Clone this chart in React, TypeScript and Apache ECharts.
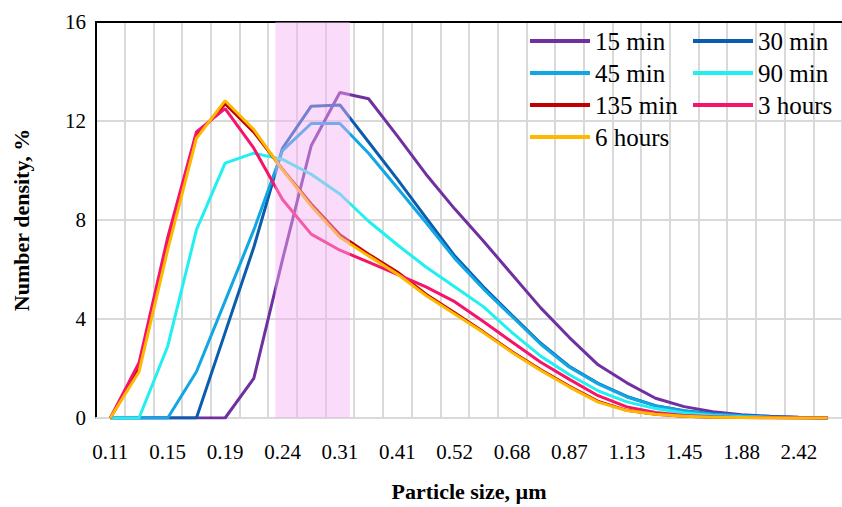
import React, { useEffect, useRef } from 'react';
import * as echarts from 'echarts';

const categories = ['0.11','0.13','0.15','0.17','0.19','0.21','0.24','0.27','0.31','0.36','0.41','0.46','0.52','0.60','0.68','0.77','0.87','1.00','1.13','1.28','1.45','1.66','1.88','2.13','2.42','2.75'];

const seriesNames = ['15 min', '30 min', '45 min', '90 min', '135 min', '3 hours', '6 hours'];
const seriesColors = ['#7030A0', '#0B5CAD', '#11A6E4', '#22F0F0', '#C00000', '#F5146A', '#FFB800'];

const min15 = [0,0,0,0,0,1.6,6.4,11.0,13.15,12.9,11.4,9.85,8.45,7.15,5.8,4.45,3.25,2.15,1.42,0.8,0.46,0.25,0.13,0.07,0.03,0];
const min30 = [0,0,0,0,3.45,6.9,10.9,12.6,12.65,11.15,9.65,8.1,6.55,5.3,4.15,3.02,2.08,1.4,0.87,0.5,0.29,0.17,0.09,0.04,0.02,0];
const min45 = [0,0,0,1.87,4.72,7.6,10.8,11.9,11.9,10.7,9.3,7.9,6.45,5.22,4.1,2.98,2.05,1.38,0.85,0.49,0.28,0.16,0.09,0.04,0.02,0];
const min90 = [0,0,2.9,7.6,10.3,10.7,10.45,9.85,9.05,7.95,7.0,6.1,5.3,4.5,3.45,2.5,1.75,1.1,0.65,0.38,0.2,0.1,0.05,0.02,0.01,0];
const min135 = [0,2.0,7.0,11.4,12.7,11.55,10.05,8.65,7.4,6.62,5.9,5.0,4.25,3.48,2.68,1.95,1.28,0.67,0.31,0.15,0.07,0.03,0.02,0.01,0,0];
const hours3 = [0,2.23,7.3,11.56,12.5,10.9,8.83,7.43,6.78,6.3,5.8,5.3,4.7,3.9,3.07,2.25,1.56,0.9,0.45,0.22,0.1,0.05,0.02,0.01,0,0];
const hours6 = [0,1.87,6.8,11.3,12.82,11.65,10.03,8.57,7.3,6.55,5.82,4.95,4.2,3.45,2.65,1.92,1.25,0.64,0.3,0.15,0.07,0.03,0.02,0.01,0,0];

const seriesValues = [min15, min30, min45, min90, min135, hours3, hours6];

const yMin = 0;
const yMax = 16;
const yInterval = 4;

// highlighted size band, in category-position units (0 = left edge of first category)
const bandRange = [6.25, 8.85];

const legendLeftColumn = ['15 min', '45 min', '135 min', '6 hours'];
const legendRightColumn = ['30 min', '90 min', '3 hours'];

const FONT = 'Liberation Serif';

export default function App() {
  const ref = useRef<HTMLDivElement>(null);

  useEffect(() => {
    if (!ref.current) return;
    const chart = echarts.init(ref.current, null, { renderer: 'svg' });

    const lineSeries = seriesNames.map((name, i) => ({
      type: 'line',
      name,
      data: seriesValues[i],
      xAxisIndex: 0,
      yAxisIndex: 0,
      symbol: 'none',
      showSymbol: false,
      smooth: false,
      lineStyle: { width: 3, color: seriesColors[i] },
      itemStyle: { color: seriesColors[i] },
      z: 2 + i * 0.01,
    }));

    const legendCommon = {
      orient: 'vertical',
      top: 25,
      padding: 0,
      itemGap: 0,
      icon: 'rect',
      itemWidth: 60,
      itemHeight: 4,
      selectedMode: false,
      textStyle: { fontFamily: FONT, fontSize: 25, color: '#000', lineHeight: 32 },
    };

    chart.setOption({
      animation: false,
      backgroundColor: '#fff',
      textStyle: { fontFamily: FONT },
      grid: { left: 96, top: 22, width: 752, height: 401, containLabel: false },
      legend: [
        { ...legendCommon, left: 530, data: legendLeftColumn },
        { ...legendCommon, left: 693, data: legendRightColumn },
      ],
      xAxis: [
        {
          type: 'category',
          data: categories,
          boundaryGap: true,
          position: 'bottom',
          axisLine: { show: true, onZero: false, lineStyle: { color: '#d9d9d9', width: 2 } },
          axisTick: { show: false },
          axisLabel: { interval: 1, color: '#000', fontFamily: FONT, fontSize: 21, margin: 23 },
          splitLine: { show: true, interval: 0, lineStyle: { color: '#d9d9d9', width: 2 } },
          name: 'Particle size, µm',
          nameLocation: 'middle',
          nameGap: 62,
          nameTextStyle: { fontFamily: FONT, fontWeight: 'bold', fontSize: 22, color: '#000' },
        },
        {
          type: 'value',
          position: 'top',
          min: 0,
          max: categories.length,
          axisLine: { show: true, onZero: false, lineStyle: { color: '#000', width: 2 } },
          axisTick: { show: false },
          axisLabel: { show: false },
          splitLine: { show: false },
        },
      ],
      yAxis: {
        type: 'value',
        min: yMin,
        max: yMax,
        interval: yInterval,
        axisLine: { show: true, onZero: false, lineStyle: { color: '#000', width: 2 } },
        axisTick: { show: false },
        axisLabel: { color: '#000', fontFamily: FONT, fontSize: 21, margin: 10 },
        splitLine: { show: true, lineStyle: { color: '#d9d9d9', width: 2 } },
        name: 'Number density, %',
        nameLocation: 'middle',
        nameGap: 64,
        nameTextStyle: { fontFamily: FONT, fontWeight: 'bold', fontSize: 22, color: '#000' },
      },
      series: [
        ...lineSeries,
        {
          type: 'custom',
          name: 'band',
          xAxisIndex: 1,
          yAxisIndex: 0,
          silent: true,
          z: 10,
          data: [[bandRange[0], bandRange[1]]],
          encode: { x: [0, 1] },
          renderItem: (params: any, api: any) => {
            const p0 = api.coord([api.value(0), yMax]);
            const p1 = api.coord([api.value(1), yMin]);
            return {
              type: 'rect',
              shape: { x: p0[0], y: p0[1], width: p1[0] - p0[0], height: p1[1] - p0[1] },
              style: { fill: 'rgba(245,175,245,0.45)' },
            };
          },
        },
      ],
    });

    return () => chart.dispose();
  }, []);

  return (
    <div
      ref={ref}
      style={{ position: 'absolute', left: 0, top: 0, width: 842, height: 507 }}
    />
  );
}
